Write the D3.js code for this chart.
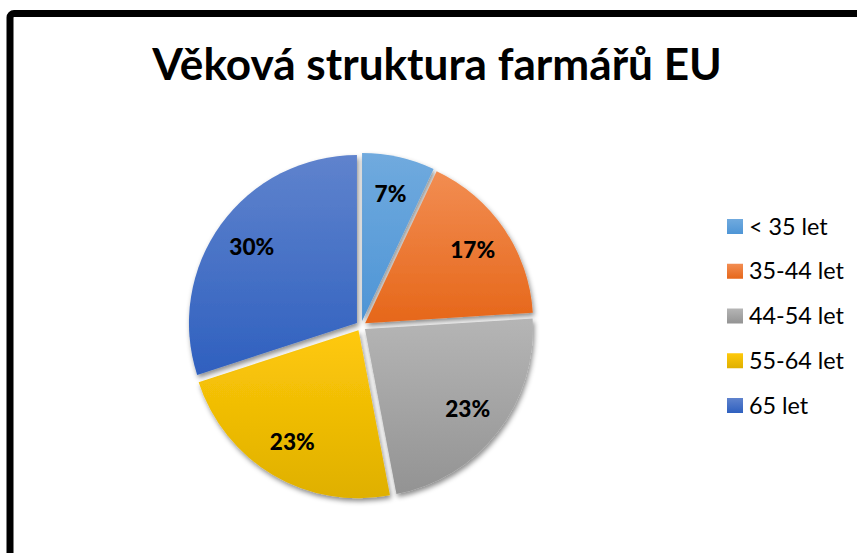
<!DOCTYPE html>
<html><head><meta charset="utf-8">
<script src="https://cdn.jsdelivr.net/npm/d3@7/dist/d3.min.js"></script>
<style>html,body{margin:0;padding:0;background:#fff;}svg{display:block;}</style>
</head><body>
<svg id="chart" width="857" height="553"></svg>
<script>
const title = "Věková struktura farmářů EU";
const categories = ["< 35 let", "35-44 let", "44-54 let", "55-64 let", "65 let"];
const values = [7, 17, 23, 23, 30];
const labels = ["7%", "17%", "23%", "23%", "30%"];
const colorsTop = ["#70aade", "#f28d52", "#b5b5b5", "#ffc90a", "#5f83cd"];
const colorsBottom = ["#4e95d6", "#e6671a", "#939393", "#dfb000", "#2f60bf"];

const svg = d3.select("#chart");
const FONT = "Lato, 'Open Sans', sans-serif";

// frame
svg.append("rect").attr("x", 10).attr("y", 13.5).attr("width", 900).attr("height", 600)
  .attr("rx", 4).attr("fill", "#fff").attr("stroke", "#000").attr("stroke-width", 7);

const defs = svg.append("defs");
const filt = defs.append("filter").attr("id", "shadow")
  .attr("x", "-20%").attr("y", "-20%").attr("width", "140%").attr("height", "140%");
filt.append("feDropShadow").attr("dx", 1.5).attr("dy", 3).attr("stdDeviation", 2.5)
  .attr("flood-color", "#000").attr("flood-opacity", 0.45);

categories.forEach((c, i) => {
  const g = defs.append("linearGradient").attr("id", "grad" + i)
    .attr("x1", 0).attr("y1", 0).attr("x2", 0).attr("y2", 1);
  g.append("stop").attr("offset", "0%").attr("stop-color", colorsTop[i]);
  g.append("stop").attr("offset", "100%").attr("stop-color", colorsBottom[i]);
});

function fitSize(sel, base, target) {
  sel.attr("font-size", base);
  const w = sel.node().getComputedTextLength();
  return base * target / w;
}

// title
const t = svg.append("text").attr("x", 437).attr("y", 80).attr("text-anchor", "middle")
  .attr("font-family", FONT).attr("font-weight", "bold")
  .attr("fill", "#000").text(title);
t.attr("font-size", fitSize(t, 38, 570));

// pie
const cx = 361, cy = 326, R = 168, explode = 5, labelR = 130;
const pie = d3.pie().sort(null).value(d => d)(values);
const arc = d3.arc().innerRadius(0).outerRadius(R);
const g = svg.append("g").attr("transform", `translate(${cx},${cy})`);
const slices = g.selectAll("g.slice").data(pie).join("g").attr("class", "slice")
  .attr("transform", d => {
    const a = (d.startAngle + d.endAngle) / 2;
    return `translate(${Math.sin(a) * explode},${-Math.cos(a) * explode})`;
  });
slices.append("path").attr("d", arc).attr("fill", (d, i) => `url(#grad${i})`)
  .attr("filter", "url(#shadow)");
const lbl = slices.append("text")
  .attr("x", d => Math.sin((d.startAngle + d.endAngle) / 2) * labelR)
  .attr("y", d => -Math.cos((d.startAngle + d.endAngle) / 2) * labelR)
  .attr("dy", "0.36em").attr("text-anchor", "middle")
  .attr("font-family", FONT).attr("font-weight", "900")
  .attr("fill", "#000").text((d, i) => labels[i]);
const lblSize = fitSize(d3.select(lbl.nodes()[4]), 21, 45);
lbl.attr("font-size", lblSize);

// legend
const legend = svg.append("g");
const ly = d3.scaleLinear().domain([0, categories.length - 1]).range([226.5, 405.5]);
const legTexts = [];
categories.forEach((c, i) => {
  const row = legend.append("g").attr("transform", `translate(727,${ly(i)})`);
  row.append("rect").attr("x", 0).attr("y", -7.5).attr("width", 16).attr("height", 15)
    .attr("fill", `url(#grad${i})`);
  legTexts.push(row.append("text").attr("x", 22).attr("y", 0).attr("dy", "0.35em")
    .attr("font-family", FONT).attr("fill", "#000").text(c));
});
const legSize = fitSize(legTexts[1], 22, 95);
legTexts.forEach(s => s.attr("font-size", legSize));
</script>
</body></html>
